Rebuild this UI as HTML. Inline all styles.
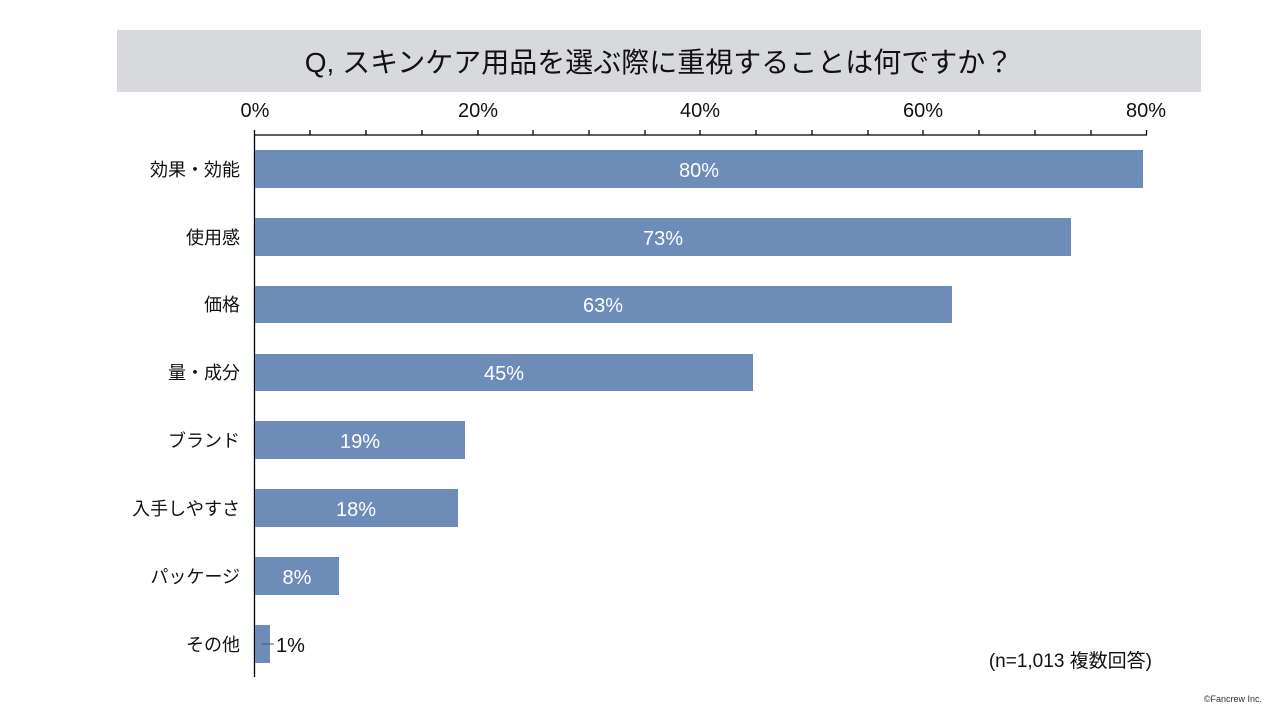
<!DOCTYPE html>
<html><head><meta charset="utf-8"><style>
body{margin:0;background:#fff;}
svg{display:block;font-family:"Liberation Sans","Noto Sans CJK JP",sans-serif;}
</style></head><body>
<svg width="1281" height="720" viewBox="0 0 1281 720">
<rect x="117" y="30" width="1084" height="62" fill="#d8d9dc"/>
<text x="659" y="72" font-size="28" text-anchor="middle" fill="#111">Q, スキンケア用品を選ぶ際に重視することは何ですか？</text>
<g font-size="20" fill="#111" text-anchor="middle">
<text x="255" y="117">0%</text><text x="478" y="117">20%</text><text x="700" y="117">40%</text><text x="923" y="117">60%</text><text x="1146" y="117">80%</text>
</g>
<g stroke="#000" stroke-width="1.3">
<line x1="254.5" y1="135" x2="1147" y2="135"/>
<line x1="254.5" y1="130" x2="254.5" y2="677"/>
<line x1="310" y1="130" x2="310" y2="135"/><line x1="366" y1="130" x2="366" y2="135"/><line x1="422" y1="130" x2="422" y2="135"/><line x1="478" y1="130" x2="478" y2="135"/><line x1="533" y1="130" x2="533" y2="135"/><line x1="589" y1="130" x2="589" y2="135"/><line x1="645" y1="130" x2="645" y2="135"/><line x1="700" y1="130" x2="700" y2="135"/><line x1="756" y1="130" x2="756" y2="135"/><line x1="812" y1="130" x2="812" y2="135"/><line x1="868" y1="130" x2="868" y2="135"/><line x1="923" y1="130" x2="923" y2="135"/><line x1="979" y1="130" x2="979" y2="135"/><line x1="1035" y1="130" x2="1035" y2="135"/><line x1="1091" y1="130" x2="1091" y2="135"/><line x1="1146.5" y1="130" x2="1146.5" y2="135"/>
</g>
<g fill="#6d8cb8">
<rect x="255" y="150" width="888" height="38"/>
<rect x="255" y="218" width="816" height="38"/>
<rect x="255" y="286" width="697" height="37"/>
<rect x="255" y="354" width="498" height="37"/>
<rect x="255" y="421" width="210" height="38"/>
<rect x="255" y="489" width="203" height="38"/>
<rect x="255" y="557" width="84" height="38"/>
<rect x="255" y="625" width="15" height="38"/>
</g>
<g font-size="20" fill="#fff" text-anchor="middle">
<text x="699" y="177">80%</text><text x="663" y="245">73%</text><text x="603" y="312">63%</text><text x="504" y="380">45%</text><text x="360" y="448">19%</text><text x="356" y="516">18%</text><text x="297" y="584">8%</text>
</g>
<line x1="262" y1="644" x2="274" y2="644" stroke="#555" stroke-width="1"/>
<text x="276" y="652" font-size="20" fill="#111">1%</text>
<g font-size="18" fill="#111" text-anchor="end">
<text x="240" y="176">効果・効能</text><text x="240" y="244">使用感</text><text x="240" y="311">価格</text><text x="240" y="379">量・成分</text><text x="240" y="447">ブランド</text><text x="240" y="515">入手しやすさ</text><text x="240" y="583">パッケージ</text><text x="240" y="651">その他</text>
</g>
<text x="1152" y="667" font-size="19" fill="#111" text-anchor="end">(n=1,013 複数回答)</text>
<text x="1262" y="702" font-size="9" fill="#333" text-anchor="end">©Fancrew Inc.</text>
</svg>
</body></html>
